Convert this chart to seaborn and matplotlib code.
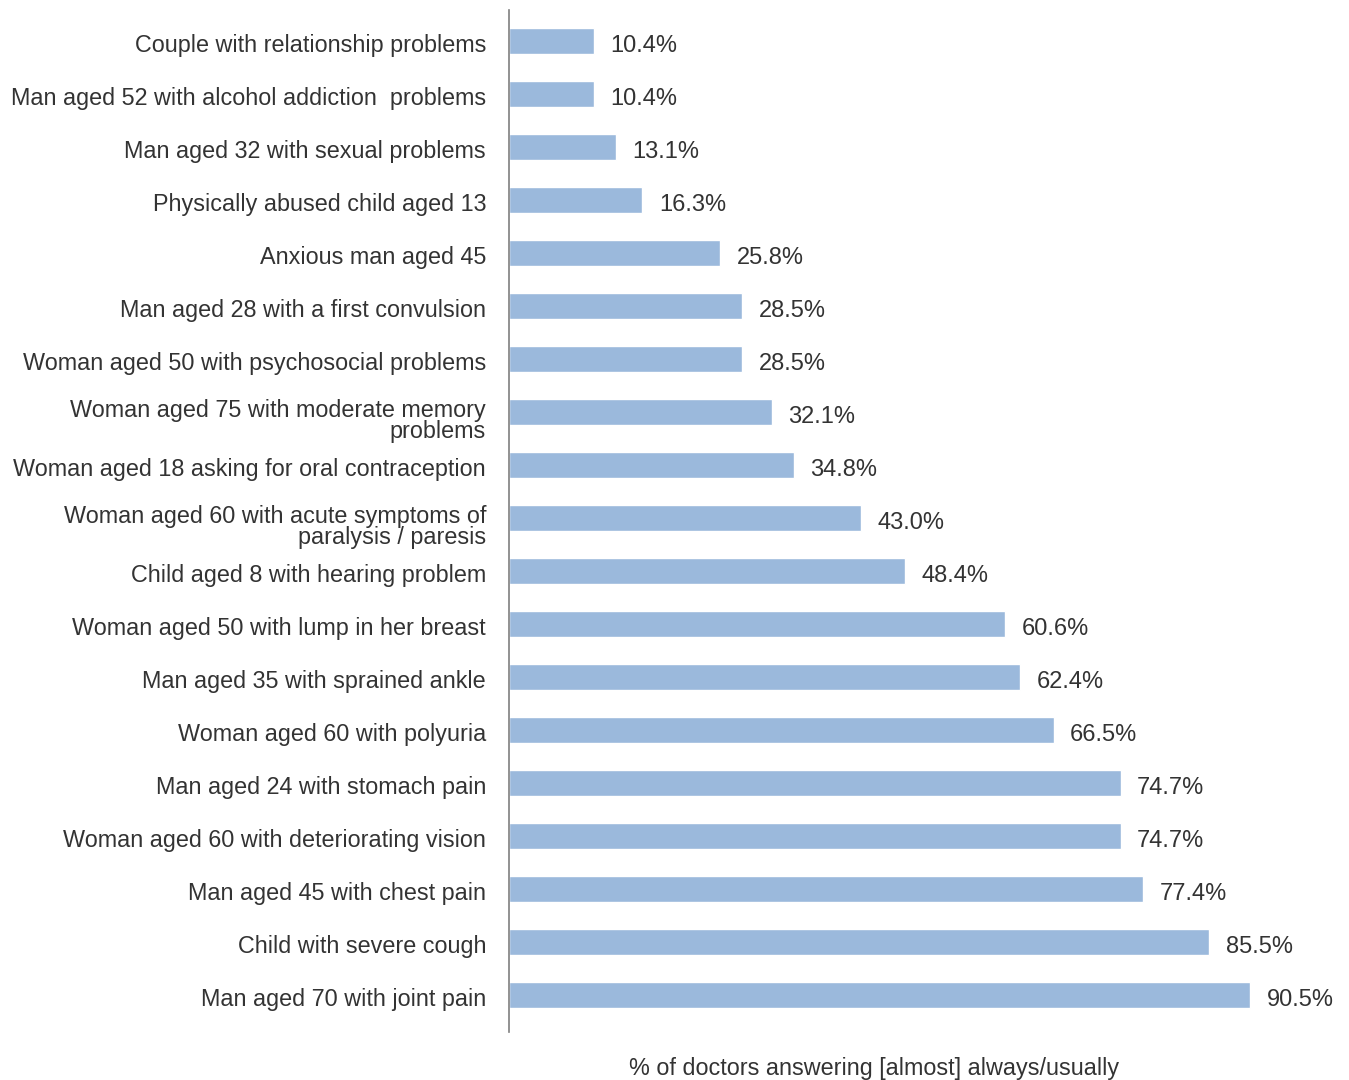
import pandas as pd
import matplotlib.pyplot as plt
import matplotlib.transforms as mtrans
import seaborn as sns

# Data
cases = [
    'Couple with relationship problems',
    'Man aged 52 with alcohol addiction  problems',
    'Man aged 32 with sexual problems',
    'Physically abused child aged 13',
    'Anxious man aged 45',
    'Man aged 28 with a first convulsion',
    'Woman aged 50 with psychosocial problems',
    'Woman aged 75 with moderate memory\nproblems',
    'Woman aged 18 asking for oral contraception',
    'Woman aged 60 with acute symptoms of\nparalysis / paresis',
    'Child aged 8 with hearing problem',
    'Woman aged 50 with lump in her breast',
    'Man aged 35 with sprained ankle',
    'Woman aged 60 with polyuria',
    'Man aged 24 with stomach pain',
    'Woman aged 60 with deteriorating vision',
    'Man aged 45 with chest pain',
    'Child with severe cough',
    'Man aged 70 with joint pain',
]
pct = [10.4, 10.4, 13.1, 16.3, 25.8, 28.5, 28.5, 32.1, 34.8, 43.0,
       48.4, 60.6, 62.4, 66.5, 74.7, 74.7, 77.4, 85.5, 90.5]

df = pd.DataFrame({'case': cases, 'pct': pct})

sns.set_style('white')
plt.rcParams['font.family'] = ['Liberation Sans', 'DejaVu Sans']
text_col = '#333333'

fig = plt.figure(figsize=(13.49, 10.8), dpi=100)
ax = fig.add_axes([509 / 1349, 48 / 1080, (1328 - 509) / 1349, (1070 - 48) / 1080])

sns.barplot(data=df, x='pct', y='case', orient='h', color='#9BB9DC',
            saturation=1, width=0.5, ax=ax)

for i, v in enumerate(pct):
    ax.text(v + 2.0, i + 0.1, f'{v:.1f}%', va='center', ha='left',
            fontsize=17, color=text_col)

ax.set_xlim(0, 100)
ax.set_ylim(18.7, -0.585)
ax.set_xticks([])
ax.set_ylabel('')
ax.tick_params(axis='y', length=0, pad=16.5, labelsize=16.8, labelcolor=text_col)
for lbl in ax.get_yticklabels():
    if '\n' in lbl.get_text():
        lbl.set_linespacing(0.85)
        lbl.set_transform(lbl.get_transform() +
                          mtrans.ScaledTranslation(0, -0.08, fig.dpi_scale_trans))
    else:
        lbl.set_transform(lbl.get_transform() +
                          mtrans.ScaledTranslation(0, -0.02, fig.dpi_scale_trans))

for s in ['top', 'right', 'bottom']:
    ax.spines[s].set_visible(False)
ax.spines['left'].set_color('#7f7f7f')
ax.spines['left'].set_linewidth(1.2)

ax.set_xlabel('% of doctors answering [almost] always/usually', fontsize=16.8,
              color=text_col)
ax.xaxis.set_label_coords(0.4457, -0.024)

fig.savefig('out.png', dpi=100)
